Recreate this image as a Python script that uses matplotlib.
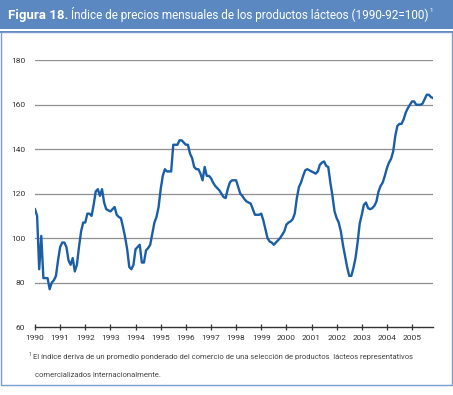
import matplotlib
matplotlib.use("Agg")
import matplotlib.pyplot as plt
from matplotlib.patches import Rectangle

# monthly index values, Jan 1990 onward (1990-92=100)
v1990 = [113, 110, 86, 101, 82, 82, 82, 77, 80, 81, 83, 90]
v1991 = [96, 98, 98, 96, 90, 88, 91, 85, 88, 96, 103, 107]
v1992 = [107, 111, 111, 110, 115, 121, 122, 119, 122, 116, 113, 112.5]
v1993 = [112, 113, 114, 110.5, 109.5, 109, 105, 100.5, 95, 87, 86, 88]
v1994 = [95, 96, 97, 89, 89, 94.5, 95.5, 97, 102, 107, 109.5, 114]
v1995 = [122, 128, 131, 130, 130, 130, 142, 142, 142, 144, 144, 143]
v1996 = [142, 142, 138, 136, 132, 131, 131, 129, 126, 132, 128, 128]
v1997 = [127, 125, 123.5, 122.5, 121.5, 120, 118.5, 118, 122, 125, 126, 126]
v1998 = [126, 123, 120, 119, 117.5, 116.5, 116, 115.5, 113, 110.5, 110.5, 110.5]
v1999 = [111, 108, 104, 100, 98.5, 98, 97, 98, 99, 100, 101.5, 103]
v2000 = [106, 107, 107.5, 108.5, 111, 118, 123, 125, 128, 130.5, 131, 130.5]
v2001 = [130, 129.5, 129, 130, 133, 134, 134.5, 132.5, 132, 125, 119, 112]
v2002 = [109, 107, 103, 97, 92, 87, 83, 83, 86.5, 91, 98, 106.5]
v2003 = [110.5, 115, 116, 113.5, 113, 113.5, 114.5, 116.5, 121, 123.5, 125, 128]
v2004 = [131.5, 134, 135.7, 139, 146, 150.5, 151.4, 151.4, 153.5, 156.5, 158.5, 160]
v2005 = [161.5, 161.5, 160, 160, 160, 160.5, 162.5, 164.5, 164.5, 163.5, 163]

values = (v1990 + v1991 + v1992 + v1993 + v1994 + v1995 + v1996 + v1997
          + v1998 + v1999 + v2000 + v2001 + v2002 + v2003 + v2004 + v2005)
months = [1990 + i / 12 for i in range(len(values))]
years = list(range(1990, 2006))
yticks = [60, 80, 100, 120, 140, 160, 180]

title_bold = "Figura 18."
title_rest = "Índice de precios mensuales de los productos lácteos (1990-92=100)"
note1 = "El índice deriva de un promedio ponderado del comercio de una selección de productos  lácteos representativos"
note2 = "comercializados internacionalmente."

W, H = 453, 395
blue = "#5b88c0"
plt.rcParams['font.family'] = ['Roboto', 'DejaVu Sans']

fig = plt.figure(figsize=(W / 100, H / 100), dpi=100)
fig.patch.set_facecolor("white")


def box(x, y, w, h, **kw):
    # pixel box with top-left origin
    r = Rectangle((x / W, 1 - (y + h) / H), w / W, h / H, transform=fig.transFigure, **kw)
    fig.add_artist(r)


def fit(t, width_px):
    # shrink a text until it spans the given pixel width
    fig.canvas.draw()
    w = t.get_window_extent().width
    t.set_fontsize(t.get_fontsize() * width_px / w)


# header band and panel frame
box(0, 0, W, 29, facecolor=blue, edgecolor="none")
box(0, 31, W, 2, facecolor=blue, edgecolor="none")
box(1, 32, 451, 353, facecolor="none", edgecolor="#7a9ccc", linewidth=1.0)

t1 = fig.text(8 / W, 1 - 15 / H, title_bold, color="white", fontsize=9,
              fontweight="bold", va="center", ha="left")
fit(t1, 60)
t2 = fig.text(71 / W, 1 - 15 / H, title_rest, color="white", fontsize=9,
              va="center", ha="left")
fit(t2, 365)
fig.canvas.draw()
end = t2.get_window_extent().x1
fig.text((end + 1) / W, 1 - 11 / H, "1", color="white", fontsize=4.5, va="center", ha="left")

ax = fig.add_axes([35 / W, 1 - 327 / H, 398 / W, (327 - 60.3) / H])
ax.plot(months, values, color="#1a5ea8", linewidth=1.7, solid_joinstyle="round")
ax.set_xlim(1990, months[-1])
ax.set_ylim(60, 180)
ax.set_yticks(yticks)
ax.set_xticks(years)
ax.set_xticklabels([str(y) for y in years])
for y in yticks[1:]:
    ax.axhline(y, color="#8f8f8f", linewidth=0.9, zorder=0)
for s in ["top", "right", "left"]:
    ax.spines[s].set_visible(False)
ax.spines["bottom"].set_color("#333333")
ax.spines["bottom"].set_linewidth(1.0)
ax.tick_params(axis="y", length=0, pad=7, labelsize=6, labelcolor="#333333")
ax.tick_params(axis="x", direction="inout", length=5, width=0.9, color="#333333",
               pad=3, labelsize=6, labelcolor="#333333")
ax.set_facecolor("none")

fig.text(29 / W, 1 - 354 / H, "1", fontsize=3.5, color="#444444", va="center")
n1 = fig.text(33 / W, 1 - 357 / H, note1, fontsize=6, color="#444444", va="center")
fit(n1, 381)
n2 = fig.text(35 / W, 1 - 375 / H, note2, fontsize=n1.get_fontsize(), color="#444444",
              va="center")

fig.savefig("out.png", dpi=100)
